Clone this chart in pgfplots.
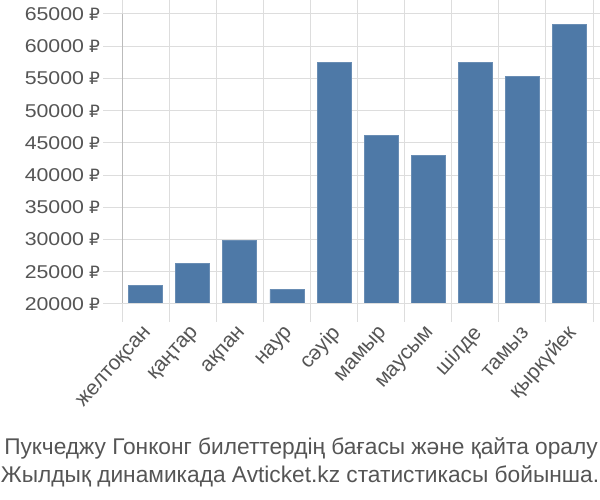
\documentclass[border=0pt]{standalone}
\usepackage{fontspec}
\setmainfont{Liberation Sans}
\newfontfamily\tickfont[FakeStretch=1.15]{Liberation Sans}
\newfontfamily\rubfont{DejaVu Sans}
\usepackage{pgfplots}
\pgfplotsset{compat=1.18}
\definecolor{barblue}{HTML}{4E79A7}
\definecolor{gridc}{HTML}{DDDDDD}
\definecolor{axisc}{HTML}{AAAAAA}
\definecolor{txt}{HTML}{555555}
\begin{document}
\begin{tikzpicture}[x=1bp,y=1bp]
\path[use as bounding box] (0,0) rectangle (600,500);
\begin{axis}[
  at={(122bp,196bp)}, anchor=south west,
  scale only axis, width=471bp, height=290bp,
  xmin=-0.5, xmax=9.5, ymin=20000, ymax=65000,
  axis line style={draw=none},
  tick align=outside,
  xtick={0,...,9},
  xticklabels={желтоқсан,қаңтар,ақпан,наур,сәуір,мамыр,маусым,шілде,тамыз,қыркүйек},
  minor xtick={-0.5,0.5,...,9.5},
  major tick length=19bp, minor tick length=18bp,
  major x tick style={draw=none},
  minor x tick style={gridc, line width=1bp},
  major y tick style={gridc, line width=1bp},
  ytick={20000,25000,...,65000},
  scaled y ticks=false,
  ymajorgrids, xminorgrids,
  grid style={gridc, line width=1bp},
  /pgf/number format/assume math mode=true,
  /pgf/number format/.cd, fixed, set thousands separator={}, /pgfplots/.cd,
  yticklabel={\pgfmathprintnumber{\tick}\hspace{5bp}{\rubfont\fontsize{17}{20}\selectfont ₽}},
  yticklabel style={font=\tickfont\fontsize{18.6}{20}\selectfont, text=txt, anchor=east, inner sep=0pt, xshift=-3bp},
  xticklabel style={font=\fontsize{21}{22}\selectfont, text=txt, rotate=48, anchor=east, inner sep=0pt, yshift=-7bp, xshift=-3bp},
  ybar, bar width=0.72,
]
\addplot[fill=barblue, draw=barblue!85!white, line width=0.6bp] coordinates {
(0,22900) (1,26250) (2,29850) (3,22250) (4,57450) (5,46100) (6,43100) (7,57450) (8,55300) (9,63350)
};
\draw[axisc, line width=1.2bp] (rel axis cs:0,1) -- (rel axis cs:0,0) -- ++(0,-18bp);
\draw[gridc, line width=1bp] (rel axis cs:0,0) -- (rel axis cs:1,0);
\end{axis}
\node[anchor=base, text=txt, font=\fontsize{22.8}{24}\selectfont, inner sep=0pt] at (301,45) {Пукчеджу Гонконг билеттердің бағасы және қайта оралу};
\node[anchor=base, text=txt, font=\fontsize{22.8}{24}\selectfont, inner sep=0pt] at (300,17) {Жылдық динамикада Avticket.kz статистикасы бойынша.};
\end{tikzpicture}
\end{document}
